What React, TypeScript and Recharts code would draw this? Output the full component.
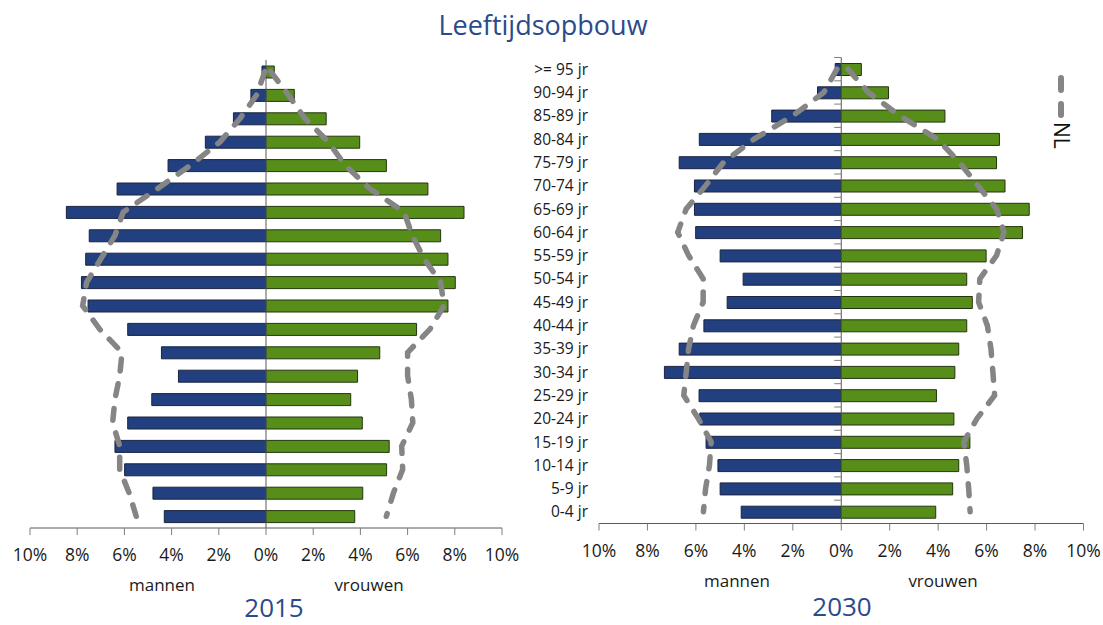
import React from 'react';
import { ComposedChart, Bar, Line, XAxis, YAxis, ReferenceLine } from 'recharts';

const categories = [
  '>= 95 jr', '90-94 jr', '85-89 jr', '80-84 jr', '75-79 jr', '70-74 jr', '65-69 jr',
  '60-64 jr', '55-59 jr', '50-54 jr', '45-49 jr', '40-44 jr', '35-39 jr', '30-34 jr',
  '25-29 jr', '20-24 jr', '15-19 jr', '10-14 jr', '5-9 jr', '0-4 jr',
];

const men2015 = [0.17, 0.64, 1.38, 2.57, 4.15, 6.31, 8.46, 7.49, 7.64, 7.82, 7.54, 5.86, 4.43, 3.71, 4.84, 5.86, 6.4, 5.99, 4.79, 4.31];
const women2015 = [0.35, 1.2, 2.55, 3.97, 5.1, 6.86, 8.39, 7.4, 7.71, 8.02, 7.71, 6.38, 4.82, 3.88, 3.59, 4.08, 5.22, 5.11, 4.1, 3.76];
const nlMen2015 = [0.05, 0.4, 1.1, 1.95, 3.2, 4.6, 6.05, 6.4, 7.0, 7.6, 7.77, 7.05, 6.1, 6.2, 6.4, 6.5, 6.2, 6.2, 5.8, 5.5];
const nlWomen2015 = [0.2, 0.95, 1.65, 2.64, 3.35, 4.4, 5.85, 6.2, 6.7, 7.4, 7.54, 6.95, 6.0, 6.0, 6.16, 6.22, 5.75, 5.79, 5.4, 5.1];

const men2030 = [0.25, 0.98, 2.87, 5.86, 6.69, 6.06, 6.06, 6.01, 5.0, 4.05, 4.71, 5.67, 6.69, 7.3, 5.87, 5.84, 5.58, 5.09, 5.0, 4.13];
const women2030 = [0.83, 1.95, 4.28, 6.53, 6.41, 6.76, 7.76, 7.48, 5.98, 5.18, 5.41, 5.18, 4.85, 4.69, 3.93, 4.65, 5.31, 4.85, 4.6, 3.9];
const nlMen2030 = [0.18, 0.72, 2.0, 3.6, 4.86, 5.6, 6.4, 6.75, 6.3, 5.7, 5.7, 6.1, 6.3, 6.4, 6.5, 5.9, 5.37, 5.44, 5.6, 5.69];
const nlWomen2030 = [0.28, 1.12, 2.42, 3.96, 4.88, 5.64, 6.41, 6.72, 6.41, 5.72, 5.67, 6.03, 6.18, 6.26, 6.33, 5.6, 5.06, 5.18, 5.26, 5.32];

const xTicks = [-10, -8, -6, -4, -2, 0, 2, 4, 6, 8, 10];

const FONT = '"Open Sans", sans-serif';
const BLUE = '#22407F';
const GREEN = '#578E1A';
const NL_GRAY = '#858585';
const TITLE_BLUE = '#2B4A8B';
const TEXT = '#1a1a1a';

function buildRows(men: number[], women: number[], nlMen: number[], nlWomen: number[]) {
  return categories.map((cat, i) => ({
    cat,
    men: -men[i],
    women: women[i],
    nlMen: -nlMen[i],
    nlWomen: nlWomen[i],
  }));
}

const rows2015 = buildRows(men2015, women2015, nlMen2015, nlWomen2015);
const rows2030 = buildRows(men2030, women2030, nlMen2030, nlWomen2030);

type Margin = { top: number; right: number; bottom: number; left: number };

const X_AXIS_HEIGHT = 40;

function makeTick(zeroX: number, band: number, showLabel: boolean) {
  return (props: any) => {
    const { x, y, payload } = props;
    const ty = y - band / 2;
    return (
      <g>
        <line x1={zeroX - 7} x2={zeroX} y1={ty} y2={ty} stroke="#7f7f7f" strokeWidth={1} />
        {showLabel && (
          <text x={x} y={y} dy="0.36em" textAnchor="end" fontFamily={FONT} fontSize={15.5} fill={TEXT}>
            {payload.value}
          </text>
        )}
      </g>
    );
  };
}

function Pyramid(props: {
  rows: any[];
  width: number;
  height: number;
  margin: Margin;
  yAxisWidth: number;
  showLabels: boolean;
}) {
  const { rows, width, height, margin, yAxisWidth, showLabels } = props;
  const plotLeft = margin.left + yAxisWidth;
  const plotWidth = width - plotLeft - margin.right;
  const zeroX = plotLeft + plotWidth / 2;
  const band = (height - margin.top - margin.bottom - X_AXIS_HEIGHT) / rows.length;
  return (
    <ComposedChart
      width={width}
      height={height}
      data={rows}
      layout="vertical"
      margin={margin}
      stackOffset="sign"
    >
      <XAxis
        type="number"
        domain={[-10, 10]}
        ticks={xTicks}
        interval={0}
        allowDataOverflow
        height={X_AXIS_HEIGHT}
        tickSize={7}
        tickMargin={14}
        tickFormatter={(v: number) => `${Math.abs(v)}%`}
        axisLine={{ stroke: '#595959' }}
        tickLine={{ stroke: '#7f7f7f' }}
        tick={{ fontFamily: FONT, fontSize: 17.5, fill: TEXT }}
      />
      <YAxis
        type="category"
        dataKey="cat"
        width={yAxisWidth}
        interval={0}
        axisLine={false}
        tickLine={false}
        tickSize={0}
        tickMargin={11}
        tick={makeTick(zeroX, band, showLabels)}
      />
      <Bar dataKey="men" stackId="s" barSize={12} fill={BLUE} stroke="#1b2340" strokeWidth={1} isAnimationActive={false} />
      <Bar dataKey="women" stackId="s" barSize={12} fill={GREEN} stroke="#24350e" strokeWidth={1} isAnimationActive={false} />
      <ReferenceLine x={0} stroke="#595959" strokeWidth={1} />
      <Line
        dataKey="nlMen"
        type="linear"
        stroke={NL_GRAY}
        strokeWidth={5.5}
        strokeDasharray="12 13"
        strokeLinecap="round"
        dot={false}
        activeDot={false}
        isAnimationActive={false}
      />
      <Line
        dataKey="nlWomen"
        type="linear"
        stroke={NL_GRAY}
        strokeWidth={5.5}
        strokeDasharray="12 13"
        strokeLinecap="round"
        dot={false}
        activeDot={false}
        isAnimationActive={false}
      />
    </ComposedChart>
  );
}

export default function App() {
  return (
    <div style={{ position: 'absolute', left: 0, top: 0, width: 1103, height: 625, background: '#fff', overflow: 'hidden' }}>
      <div style={{ position: 'absolute', left: 0, top: 0 }}>
        <Pyramid
          rows={rows2015}
          width={520}
          height={600}
          margin={{ top: 60, right: 18, bottom: 32, left: 30 }}
          yAxisWidth={0}
          showLabels={false}
        />
      </div>
      <div style={{ position: 'absolute', left: 520, top: 0 }}>
        <Pyramid
          rows={rows2030}
          width={583}
          height={600}
          margin={{ top: 57.5, right: 19.5, bottom: 36.5, left: 0 }}
          yAxisWidth={79}
          showLabels={true}
        />
      </div>
      <svg
        width={1103}
        height={625}
        style={{ position: 'absolute', left: 0, top: 0, pointerEvents: 'none' }}
      >
        <text x={543} y={35} textAnchor="middle" fontFamily={FONT} fontSize={27} fill={TITLE_BLUE}>
          Leeftijdsopbouw
        </text>
        <text x={162} y={591} textAnchor="middle" fontFamily={FONT} fontSize={17} fill={TEXT}>mannen</text>
        <text x={369} y={591} textAnchor="middle" fontFamily={FONT} fontSize={17} fill={TEXT}>vrouwen</text>
        <text x={737} y={587} textAnchor="middle" fontFamily={FONT} fontSize={17} fill={TEXT}>mannen</text>
        <text x={943} y={587} textAnchor="middle" fontFamily={FONT} fontSize={17} fill={TEXT}>vrouwen</text>
        <text x={274} y={617} textAnchor="middle" fontFamily={FONT} fontSize={26} fill={TITLE_BLUE}>2015</text>
        <text x={842} y={616} textAnchor="middle" fontFamily={FONT} fontSize={26} fill={TITLE_BLUE}>2030</text>
        <path
          d="M1061 78 L1061 115"
          stroke={NL_GRAY}
          strokeWidth={6}
          strokeDasharray="12 14"
          strokeLinecap="round"
          fill="none"
        />
        <text
          x={1054}
          y={122}
          transform="rotate(90 1054 122)"
          fontFamily={FONT}
          fontSize={21}
          fill="#111"
        >
          NL
        </text>
      </svg>
    </div>
  );
}
